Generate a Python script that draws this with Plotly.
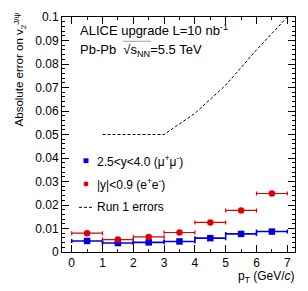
import plotly.graph_objects as go

# ---- data ----
pt_centers = [0.5, 1.5, 2.5, 3.5, 4.5, 5.5, 6.5]
pt_halfwidth = [0.5, 0.5, 0.5, 0.5, 0.5, 0.5, 0.5]
err_mumu = [0.0047, 0.0038, 0.0041, 0.0045, 0.0059, 0.0077, 0.0087]
err_ee = [0.0080, 0.0053, 0.0064, 0.0083, 0.0126, 0.0177, 0.0249]
run1_pt = [1, 2, 3, 4, 5, 6, 7]
run1_err = [0.05, 0.05, 0.05, 0.059, 0.071, 0.086, 0.1]

W, H = 308, 291
L, R, T, B = 62, 295, 10, 252
XR = [-0.315, 7.25]
YR = [0.0, 0.1]

FONT = "Liberation Sans, Arial, Helvetica, sans-serif"
BLUE = "#0000dd"
RED = "#dd0000"


def px(x):
    return (x - L) / (R - L)


def py(y):
    return (B - y) / (B - T)


fig = go.Figure()

fig.add_trace(go.Scatter(
    x=run1_pt, y=run1_err, mode="lines",
    line=dict(color="black", width=1, dash="3px,2px"),
    showlegend=False, hoverinfo="skip"))

fig.add_trace(go.Scatter(
    x=pt_centers, y=err_mumu, mode="markers",
    marker=dict(symbol="square", size=6.5, color=BLUE),
    error_x=dict(type="data", array=pt_halfwidth, color=BLUE, thickness=1.6, width=2),
    showlegend=False))

fig.add_trace(go.Scatter(
    x=pt_centers, y=err_ee, mode="markers",
    marker=dict(symbol="circle", size=6.5, color=RED),
    error_x=dict(type="data", array=pt_halfwidth, color=RED, thickness=1.2, width=2),
    showlegend=False))

axis_common = dict(
    showgrid=False, zeroline=False, showline=True, linecolor="black", linewidth=1,
    mirror="allticks", ticks="inside", ticklen=7, tickcolor="black",
    tickfont=dict(family=FONT, size=12, color="black"),
)

fig.update_xaxes(range=XR, dtick=1, tick0=0,
                 minor=dict(ticks="inside", ticklen=3, dtick=0.5, tickcolor="black"),
                 **axis_common)
fig.update_yaxes(range=YR, dtick=0.01, tick0=0,
                 minor=dict(ticks="inside", ticklen=3, dtick=0.002, tickcolor="black"),
                 **axis_common)

ann = []
# axis titles
ann.append(dict(text="Absolute error on v<sub>2</sub><sup>J/ψ</sup>", textangle=-90,
                x=px(20), y=py(64), xref="paper", yref="paper",
                xanchor="center", yanchor="middle", showarrow=False,
                font=dict(family=FONT, size=11.5, color="black")))
ann.append(dict(text="p<sub>T</sub> (GeV/<i>c</i>)",
                x=px(297), y=py(278), xref="paper", yref="paper",
                xanchor="right", yanchor="middle", showarrow=False,
                font=dict(family=FONT, size=12, color="black")))
# header texts
ann.append(dict(text="ALICE upgrade L=10 nb<sup>-1</sup>",
                x=px(78), y=py(23), xref="paper", yref="paper",
                xanchor="left", yanchor="middle", showarrow=False,
                font=dict(family=FONT, size=13, color="black")))
ann.append(dict(text="Pb-Pb  √s<sub>NN</sub>=5.5 TeV",
                x=px(78), y=py(44), xref="paper", yref="paper",
                xanchor="left", yanchor="middle", showarrow=False,
                font=dict(family=FONT, size=13, color="black")))
# legend texts
leg = [("2.5&lt;y&lt;4.0 (μ<sup>+</sup>μ<sup>-</sup>)", 158),
       ("|y|&lt;0.9 (e<sup>+</sup>e<sup>-</sup>)", 182),
       ("Run 1 errors", 206)]
for t, yy in leg:
    ann.append(dict(text=t, x=px(95), y=py(yy), xref="paper", yref="paper",
                    xanchor="left", yanchor="middle", showarrow=False,
                    font=dict(family=FONT, size=12, color="black")))

shapes = []
# sqrt overline
shapes.append(dict(type="line", xref="paper", yref="paper",
                   x0=px(123), x1=px(151), y0=py(35), y1=py(35),
                   line=dict(color="#888888", width=0.8)))
# legend symbols
shapes.append(dict(type="rect", xref="paper", yref="paper",
                   x0=px(83.5), x1=px(88.5), y0=py(155.5), y1=py(160.5),
                   fillcolor=BLUE, line=dict(width=0)))
shapes.append(dict(type="circle", xref="paper", yref="paper",
                   x0=px(83.5), x1=px(88.5), y0=py(179.5), y1=py(184.5),
                   fillcolor=RED, line=dict(width=0)))
shapes.append(dict(type="line", xref="paper", yref="paper",
                   x0=px(79), x1=px(93), y0=py(206), y1=py(206),
                   line=dict(color="black", width=1, dash="3px,2px")))

fig.update_layout(
    width=W, height=H,
    margin=dict(l=L, r=W - R, t=T, b=H - B),
    paper_bgcolor="white", plot_bgcolor="white",
    font=dict(family=FONT, size=12, color="black"),
    annotations=ann, shapes=shapes, showlegend=False,
)

fig.write_html("out.html",
               config={"displayModeBar": False},
               post_script="document.body.style.margin='0px';document.body.style.padding='0px';")
